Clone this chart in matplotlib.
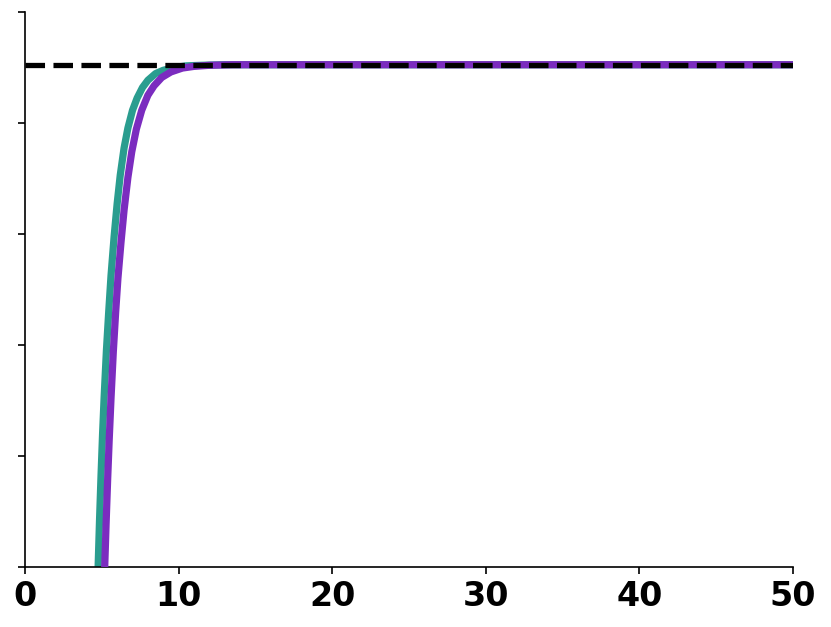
import matplotlib
matplotlib.use("Agg")
import matplotlib.pyplot as plt

# Values (arbitrary y units, axis 0..1)
teal_x = [4.76, 4.85, 4.95, 5.05, 5.15, 5.3, 5.45, 5.6, 5.8, 6.0, 6.2, 6.45, 6.7, 7.0, 7.3, 7.65,
          8.0, 8.5, 9.0, 9.75, 10.5, 11.5, 13.0, 50.0]
teal_y = [0.0, 0.083, 0.165, 0.24, 0.305, 0.39, 0.46, 0.525, 0.595, 0.655, 0.706, 0.755, 0.791, 0.823, 0.845, 0.864,
          0.877, 0.889, 0.895, 0.900, 0.903, 0.904, 0.905, 0.905]

purple_x = [5.19, 5.28, 5.38, 5.48, 5.6, 5.75, 5.9, 6.05, 6.25, 6.45, 6.7, 6.95, 7.25, 7.6,
            8.0, 8.4, 8.9, 9.5, 10.25, 11.0, 12.0, 13.5, 50.0]
purple_y = [0.0, 0.078, 0.157, 0.228, 0.304, 0.388, 0.458, 0.52, 0.585, 0.643, 0.702, 0.748, 0.789, 0.823,
            0.850, 0.867, 0.882, 0.892, 0.899, 0.902, 0.904, 0.905, 0.905]

level = 0.905
x_ticks = [0, 10, 20, 30, 40, 50]
y_ticks = [0, 0.2, 0.4, 0.6, 0.8, 1.0]

fig = plt.figure(figsize=(8.31, 6.27), dpi=100)
ax = fig.add_axes([25/831, 60/627, (793-25)/831, (567-12)/627])

ax.plot(teal_x, teal_y, color="#2a9d8f", lw=5.2, solid_capstyle="butt",
        solid_joinstyle="round", zorder=2)
ax.plot(purple_x, purple_y, color="#7b2cbf", lw=5.2, solid_capstyle="butt",
        solid_joinstyle="round", zorder=3)
ax.plot([0, 50], [level, level], color="black", lw=3.8, ls="--", zorder=4)

ax.set_xlim(0, 50)
ax.set_ylim(0, 1)
ax.set_xticks(x_ticks)
ax.set_xticklabels([str(t) for t in x_ticks], fontsize=24, fontweight="bold")
ax.set_yticks(y_ticks)
ax.set_yticklabels([])
ax.spines["top"].set_visible(False)
ax.spines["right"].set_visible(False)
for s in ("left", "bottom"):
    ax.spines[s].set_linewidth(1.2)
ax.tick_params(axis="both", length=5, width=1.2)
ax.tick_params(axis="x", pad=4)

fig.savefig("out.png", dpi=100)
